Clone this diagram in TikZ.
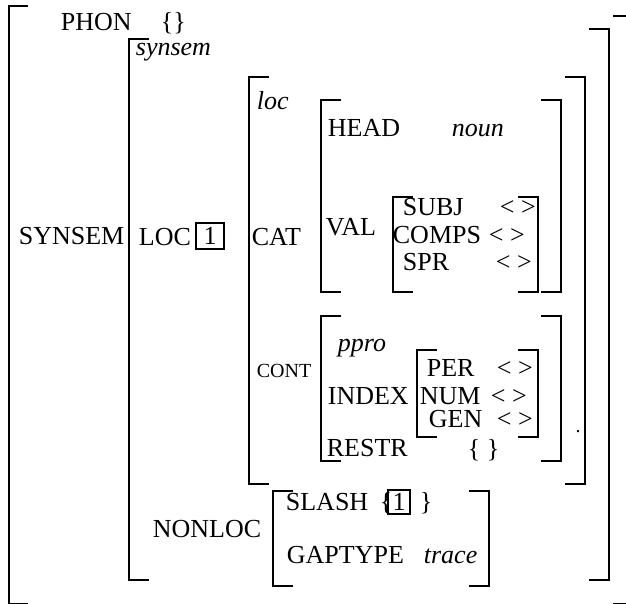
\documentclass[tikz,border=0pt]{standalone}
\usepackage{fontspec}
\setmainfont{Liberation Serif}
\newcommand\lbrk[3]{\draw (#1+20,#2) -- (#1,#2) -- (#1,#3) -- (#1+20,#3);}
\newcommand\rbrk[3]{\draw (#1-20,#2) -- (#1,#2) -- (#1,#3) -- (#1-20,#3);}
\begin{document}
\begin{tikzpicture}[x=1pt,y=-1pt, line width=1.8pt,
  lab/.style={anchor=base west, inner sep=0pt, text height=18pt, text depth=0pt, font=\fontsize{26}{30}\selectfont},
  it/.style={lab, text depth=5pt, font=\fontsize{26}{30}\selectfont\itshape},
  sm/.style={anchor=base west, inner sep=0pt, font=\fontsize{20}{24}\selectfont},
  tag/.style={draw, line width=1.6pt, inner sep=0pt, font=\fontsize{26}{30}\selectfont}]
\useasboundingbox (0,0) rectangle (626,604);
% outer bracket
\draw (28,6) -- (9,6) -- (9,603.5) -- (28,603.5);
\draw (613,16) -- (628,16) -- (628,603.5) -- (613,603.5);
% synsem
\lbrk{129}{39}{580}
\rbrk{609}{29}{580}
% loc
\lbrk{249}{77}{484}
\rbrk{585}{77}{484}
% cat
\lbrk{321}{100}{292}
\rbrk{561}{100}{292}
% val
\lbrk{393}{197}{292}
\rbrk{538}{197}{292}
% cont
\lbrk{321}{316}{461}
\rbrk{561}{316}{461}
% index
\lbrk{417}{350}{437}
\rbrk{538}{350}{437}
% nonloc
\lbrk{273}{491}{586}
\rbrk{489}{491}{586}
% texts
\node[lab] (phon) at (60,31) {PHON};
\node[lab] (phonv) at (160,31) {\{\}};
\node[it] (synsem) at (135,56) {synsem};
\node[it] (loct) at (256,110) {loc};
\node[lab] (synsemf) at (18,244) {SYNSEM};
\node[lab] (locf) at (138,245) {LOC};
\node[tag, minimum width=28pt, minimum height=26pt] (tag1) at (210,236) {1};
\node[lab] (cat) at (251,245) {CAT};
\node[lab] (head) at (327,137) {HEAD};
\node[it] (noun) at (451,137) {noun};
\node[lab] (val) at (325,235) {VAL};
\node[lab] (subj) at (402,215) {SUBJ};
\node[lab] (subjv) at (499,215) {< >};
\node[lab] (comps) at (392,243) {COMPS};
\node[lab] (compsv) at (488,243) {< >};
\node[lab] (spr) at (402,270) {SPR};
\node[lab] (sprv) at (495,270) {< >};
\node[sm] (cont) at (256,377) {CONT};
\node[it] (ppro) at (337,351) {ppro};
\node[lab] (index) at (327,404) {INDEX};
\node[lab] (per) at (426,376) {PER};
\node[lab] (perv) at (496,376) {< >};
\node[lab] (num) at (419,404) {NUM};
\node[lab] (numv) at (490,404) {< >};
\node[lab] (gen) at (428,427) {GEN};
\node[lab] (genv) at (496,427) {< >};
\node[lab] (restr) at (326,456) {RESTR};
\node[lab] (restrv) at (467,457) {\{ \}};
\node[sm, anchor=center] (dot) at (578,432) {.};
\node[lab] (nonloc) at (152,537) {NONLOC};
\node[lab] (slash) at (285,510) {SLASH};
\node[lab] (lb) at (379,510) {\{};
\node[tag, minimum width=22pt, minimum height=24pt] (tag2) at (399,502) {1};
\node[lab] (rb) at (419,510) {\}};
\node[lab] (gaptype) at (286,563) {GAPTYPE};
\node[it] (trace) at (423,563) {trace};
\end{tikzpicture}
\end{document}
